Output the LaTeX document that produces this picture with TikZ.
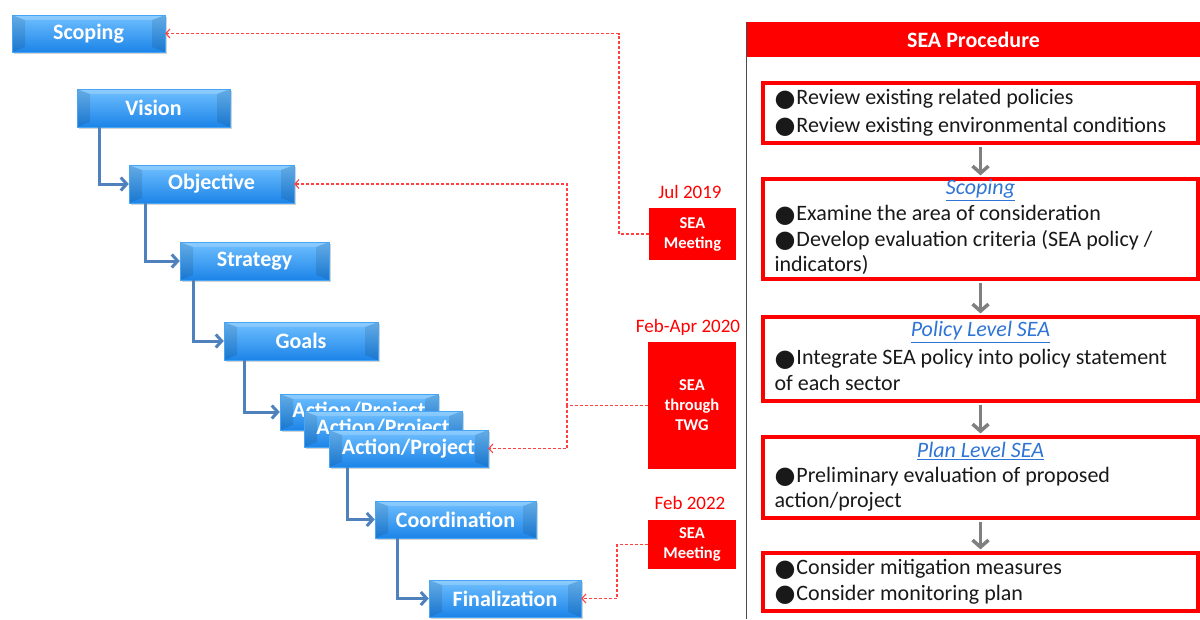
\documentclass[tikz,border=0pt]{standalone}
\usepackage{fontspec}
\setmainfont{Carlito}
\newfontfamily\symfont{DejaVu Sans}
\usetikzlibrary{arrows.meta,shadows}

\definecolor{boxtop}{RGB}{112,192,255}
\definecolor{boxbot}{RGB}{28,132,232}
\definecolor{boxedge}{RGB}{70,165,245}
\definecolor{linkblue}{RGB}{79,129,189}
\definecolor{headblue}{RGB}{46,117,214}
\definecolor{nextgray}{RGB}{128,128,128}

\newcommand{\bul}{{\symfont\fontsize{24}{25}\selectfont\raisebox{-1.5pt}{●}}\hspace{1pt}}

\tikzset{
  stage/.style={draw=boxedge, top color=boxtop, bottom color=boxbot, inner sep=0pt,
    text=white, font=\fontsize{22}{24}\selectfont\bfseries,
    drop shadow={shadow xshift=1.5pt, shadow yshift=-1.5pt, opacity=.35},
    path picture={
      \fill[black,opacity=.1] (path picture bounding box.south west) -- (path picture bounding box.north west)
        -- ([xshift=13pt,yshift=-5pt]path picture bounding box.north west)
        -- ([xshift=13pt,yshift=5pt]path picture bounding box.south west) -- cycle;
      \fill[black,opacity=.1] (path picture bounding box.south east) -- (path picture bounding box.north east)
        -- ([xshift=-13pt,yshift=-5pt]path picture bounding box.north east)
        -- ([xshift=-13pt,yshift=5pt]path picture bounding box.south east) -- cycle;
      \fill[white,opacity=.2] (path picture bounding box.north west) -- (path picture bounding box.north east)
        -- ([xshift=-13pt,yshift=-5pt]path picture bounding box.north east)
        -- ([xshift=13pt,yshift=-5pt]path picture bounding box.north west) -- cycle;
    }},
  flow/.style={draw=linkblue, line width=3pt, -{Straight Barb[length=6pt,width=13pt]}},
  link/.style={draw=red!75, line width=1.1pt, dash pattern=on 3pt off 2pt, -{Straight Barb[length=4pt,width=9pt]}},
  meet/.style={fill=red, text=white, inner sep=0pt, align=center,
    font=\fontsize{16.5}{20}\selectfont\bfseries},
  date/.style={text=red, font=\fontsize{19}{20}\selectfont},
  stepbox/.style={draw=red, line width=3.2pt, fill=white, minimum width=435pt, inner sep=0pt},
  steptext/.style={anchor=west, align=left, text=black!90, font=\fontsize{22}{25.5}\selectfont},
  stephead/.style={text=headblue, font=\fontsize{22}{24}\selectfont\itshape},
  next/.style={draw=nextgray, line width=3.5pt, shorten <=2pt, shorten >=2pt,
    -{Straight Barb[length=7pt,width=16pt]}}
}

\begin{document}
\begin{tikzpicture}[x=1pt,y=-1pt]
  \useasboundingbox (0,0) rectangle (1200,619);

  % planning stages
  \node[stage, minimum width=153pt, minimum height=37pt] (scoping) at (88.5,33.5) {Scoping};
  \node[stage, minimum width=153pt, minimum height=38pt] (vision) at (153.5,108) {Vision};
  \node[stage, minimum width=165pt, minimum height=38pt] (objective) at (211.5,184) {Objective};
  \node[stage, minimum width=149pt, minimum height=38pt] (strategy) at (254.5,261) {Strategy};
  \node[stage, minimum width=154pt, minimum height=38pt] (goals) at (301,341) {Goals};
  \node[stage, minimum width=158pt, minimum height=36pt] (act1) at (359,412) {Action/Project};
  \node[stage, minimum width=158pt, minimum height=36pt] (act2) at (383,429) {Action/Project};
  \node[stage, minimum width=159pt, minimum height=37pt] (act3) at (408.5,448.5) {Action/Project};
  \node[stage, minimum width=161pt, minimum height=37pt] (coord) at (455.5,519.5) {Coordination};
  \node[stage, minimum width=152pt, minimum height=37pt] (final) at (505,598.5) {Finalization};

  \draw[flow] ([xshift=23pt]vision.south west) |- (objective.west);
  \draw[flow] ([xshift=17pt]objective.south west) |- (strategy.west);
  \draw[flow] ([xshift=14pt]strategy.south west) |- (goals.west);
  \draw[flow] ([xshift=21pt]goals.south west) |- (act1.west);
  \draw[flow] ([xshift=19pt]act3.south west) |- (coord.west);
  \draw[flow] ([xshift=23pt]coord.south west) |- (final.west);

  % SEA meetings
  \node[date] (jul) at (690,192) {Jul 2019};
  \node[meet, minimum width=87pt, minimum height=52pt] (meet1) at (692.5,234) {SEA\\Meeting};
  \node[date] (febapr) at (688,327) {Feb-Apr 2020};
  \node[meet, minimum width=88pt, minimum height=127pt] (twg) at (692,405.5) {SEA\\through\\TWG};
  \node[date] (feb) at (690,503) {Feb 2022};
  \node[meet, minimum width=88pt, minimum height=49pt] (meet2) at (692,544.5) {SEA\\Meeting};

  \coordinate (k1) at (619,33.5);
  \coordinate (k2) at (567,184);
  \coordinate (k3) at (567,448.5);
  \coordinate (k4) at (617,598.5);
  \draw[link] (meet1.west) -| (k1) -- (scoping.east);
  \draw[link] (twg.west) -| (k2) -- (objective.east);
  \draw[link] (twg.west) -| (k3) -- (act3.east);
  \draw[link] (meet2.west) -| (k4) -- (final.east);

  % SEA procedure panel
  \draw[black!70, line width=1pt] (746,619) -- (746,22) -- (1200,22);
  \node[fill=red, minimum width=453pt, minimum height=35pt, inner sep=0pt, text=white,
    font=\fontsize{22}{24}\selectfont\bfseries] (head) at (973.5,39.5) {SEA Procedure};

  \node[stepbox, minimum height=60pt] (b1) at (980.5,113) {};
  \node[stepbox, minimum height=100pt] (b2) at (980.5,229) {};
  \node[stepbox, minimum height=84pt] (b3) at (980.5,359) {};
  \node[stepbox, minimum height=81pt] (b4) at (980.5,477.5) {};
  \node[stepbox, minimum height=58pt] (b5) at (980.5,582) {};

  \node[steptext] (t1) at (771,113) {\bul Review existing related policies\\[2pt]
    \bul Review existing environmental conditions};
  \node[stephead] (h2) at (980.5,190) {\underline{Scoping}};
  \node[steptext] (t2) at (771,240) {\bul Examine the area of consideration\\
    \bul Develop evaluation criteria (SEA policy /\\indicators)};
  \node[stephead] (h3) at (980.5,332) {\underline{Policy Level SEA}};
  \node[steptext] (t3) at (771,370) {\bul Integrate SEA policy into policy statement\\of each sector};
  \node[stephead] (h4) at (980.5,451) {\underline{Plan Level SEA}};
  \node[steptext] (t4) at (771,489) {\bul Preliminary evaluation of proposed\\action/project};
  \node[steptext] (t5) at (771,582) {\bul Consider mitigation measures\\
    \bul Consider monitoring plan};

  \draw[next] (b1) -- (b2);
  \draw[next] (b2) -- (b3);
  \draw[next] (b3) -- (b4);
  \draw[next] (b4) -- (b5);
\end{tikzpicture}
\end{document}
